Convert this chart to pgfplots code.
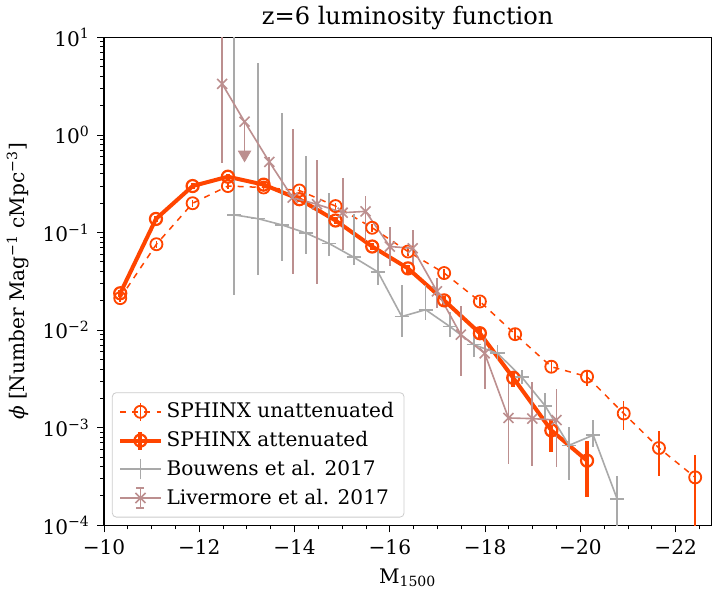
\documentclass[border=0pt]{standalone}
\usepackage{pgfplots}
\pgfplotsset{compat=1.18}
\usepackage{pgfplotstable}
\usepackage{fontspec}
\setmainfont{DejaVu Serif}

\definecolor{sphinx}{RGB}{255,69,0}
\definecolor{bouw}{RGB}{169,169,169}
\definecolor{liver}{RGB}{188,143,143}

% x = M1500, y = phi, ep/em = upper/lower error
\pgfplotstableread{
x       y        ep       em
-10.34  0.0213   0.002    0.002
-11.10  0.076    0.006    0.006
-11.86  0.20     0.015    0.015
-12.60  0.30     0.02     0.02
-13.35  0.29     0.02     0.02
-14.10  0.27     0.02     0.02
-14.86  0.187    0.015    0.015
-15.63  0.112    0.01     0.01
-16.38  0.064    0.006    0.006
-17.14  0.0385   0.004    0.004
-17.89  0.0197   0.0022   0.002
-18.63  0.0091   0.0014   0.0011
-19.39  0.00422  0.0006   0.0005
-20.14  0.00334  0.0006   0.00064
-20.91  0.0014   0.00047  0.00046
-21.65  0.00062  0.0003   0.0003
-22.41  0.00031  0.00022  0.000305
}\unatt

\pgfplotstableread{
x       y        ep       em
-10.34  0.0239   0.002    0.002
-11.09  0.138    0.01     0.01
-11.86  0.30     0.02     0.02
-12.60  0.374    0.025    0.025
-13.35  0.31     0.02     0.02
-14.10  0.22     0.015    0.015
-14.86  0.133    0.01     0.01
-15.63  0.072    0.006    0.006
-16.38  0.043    0.004    0.004
-17.14  0.0202   0.002    0.002
-17.89  0.0093   0.0012   0.0011
-18.59  0.00325  0.0005   0.00062
-19.39  0.00094  0.0003   0.00038
-20.14  0.00046  0.00028  0.000266
}\att

\pgfplotstableread{
x       y        ep       em
-12.73  0.152    30       0.129
-13.23  0.139    5.3      0.102
-13.73  0.12     1.58     0.069
-14.24  0.099    0.51     0.039
-14.73  0.077    0.18     0.019
-15.24  0.056    0.10     0.009
-15.75  0.0395   0.037    0.0105
-16.25  0.0138   0.0152   0.0052
-16.75  0.0162   0.0128   0.0035
-17.26  0.0109   0.0046   0.0023
-17.76  0.0071   0.003    0.0018
-18.26  0.0058   0.0012   0.0009
-18.77  0.0033   0.0006   0.0005
-19.26  0.00168  0.00058  0.00044
-19.76  0.00066  0.00036  0.00037
-20.27  0.00084  0.00035  0.00021
-20.77  0.000187 0.00013  0.000182
}\bouwens

\pgfplotstableread{
x       y        ep       em
-12.48  3.34     30       2.82
-12.95  1.37     0        0
-13.47  0.53     0.07     0.19
-13.96  0.228    0.92     0.19
-14.47  0.195    0.365    0.165
-15.01  0.16     0.2      0.093
-15.49  0.165    0.072    0.083
-16.00  0.072    0.043    0.027
-16.48  0.069    0.038    0.024
-16.99  0.025    0.009    0.0082
-17.49  0.0090   0.0086   0.0056
-17.99  0.0058   0.0033   0.0033
-18.49  0.00126  0.0021   0.00083
-18.99  0.00124  0.0017   0.00083
-19.50  0.0012   0.0013   0.0008
}\livermore

\begin{document}
\begin{tikzpicture}
\begin{axis}[
  scale only axis, width=302.5pt, height=243pt,
  x dir=reverse, xmin=-22.75, xmax=-10,
  ymode=log, ymin=1e-4, ymax=10,
  xtick={-10,-12,-14,-16,-18,-20,-22},
  xticklabels={−10,−12,−14,−16,−18,−20,−22},
  minor xtick={-22.5,-21.5,-20.5,-19.5,-18.5,-17.5,-16.5,-15.5,-14.5,-13.5,-12.5,-11.5,-10.5,-21,-19,-17,-15,-13,-11},
  ytick={1e-4,1e-3,1e-2,1e-1,1,10},
  yticklabels={10\textsuperscript{−4},10\textsuperscript{−3},10\textsuperscript{−2},10\textsuperscript{−1},10\textsuperscript{0},10\textsuperscript{1}},
  minor ytick={2e-4,3e-4,4e-4,5e-4,6e-4,7e-4,8e-4,9e-4,
    2e-3,3e-3,4e-3,5e-3,6e-3,7e-3,8e-3,9e-3,
    2e-2,3e-2,4e-2,5e-2,6e-2,7e-2,8e-2,9e-2,
    0.2,0.3,0.4,0.5,0.6,0.7,0.8,0.9,2,3,4,5,6,7,8,9},
  tick align=outside, tick pos=left,
  major tick length=3.5pt, minor tick length=2pt,
  tick style={black, line width=0.5pt},
  axis line style={line width=0.6pt},
  title={z=6 luminosity function}, title style={font=\large, yshift=-6pt},
  xlabel={M\textsubscript{1500}},
  ylabel={\textit{ϕ} [Number Mag\textsuperscript{−1} cMpc\textsuperscript{−3}]},
  legend style={at={(0.013,0.016)}, anchor=south west, draw=black!20,
    rounded corners=2pt, fill=white, fill opacity=0.8, text opacity=1,
    font=\normalsize, row sep=1.2pt, inner sep=3pt},
  legend cell align=left,
  error bars/error mark=none,
]
% SPHINX unattenuated
\addplot[forget plot, sphinx, dashed, line width=0.75pt, mark=o, mark size=3pt,
  mark options={solid, line width=0.9pt},
  error bars/.cd, y dir=both, y explicit,
  error bar style={solid, line width=0.75pt}]
  table[x=x, y=y, y error plus=ep, y error minus=em]{\unatt};
% SPHINX attenuated
\addplot[forget plot, sphinx, line width=2pt, mark=o, mark size=3pt,
  mark options={solid, line width=1.1pt},
  error bars/.cd, y dir=both, y explicit,
  error bar style={line width=2pt}]
  table[x=x, y=y, y error plus=ep, y error minus=em]{\att};
% Bouwens
\addplot[forget plot, bouw, line width=0.8pt, mark=+, mark size=3.5pt,
  mark options={line width=0.8pt},
  error bars/.cd, y dir=both, y explicit,
  error bar style={line width=0.9pt}]
  table[x=x, y=y, y error plus=ep, y error minus=em]{\bouwens};
% Livermore
\addplot[forget plot, liver, line width=0.8pt, mark=x, mark size=3.5pt,
  mark options={line width=0.8pt},
  error bars/.cd, y dir=both, y explicit,
  error bar style={line width=0.9pt}]
  table[x=x, y=y, y error plus=ep, y error minus=em]{\livermore};
% upper limit
\addplot[forget plot, liver, line width=0.9pt] coordinates {(-12.95,1.37) (-12.95,0.66)};
\addplot[forget plot, liver, only marks, mark=triangle*, mark size=3.5pt,
  mark options={rotate=180}] coordinates {(-12.95,0.63)};

\addlegendimage{legend image code/.code={
  \draw[sphinx, dashed, line width=0.75pt] (0pt,0pt) -- (20pt,0pt);
  \draw[sphinx, line width=0.75pt] (10pt,-4.5pt) -- (10pt,4.5pt);
  \draw[sphinx, line width=0.9pt] (10pt,0pt) circle (3pt);}}
\addlegendentry{SPHINX unattenuated}
\addlegendimage{legend image code/.code={
  \draw[sphinx, line width=2pt] (0pt,0pt) -- (20pt,0pt);
  \draw[sphinx, line width=2pt] (10pt,-4.5pt) -- (10pt,4.5pt);
  \draw[sphinx, line width=1.1pt] (10pt,0pt) circle (3pt);}}
\addlegendentry{SPHINX attenuated}
\addlegendimage{legend image code/.code={
  \draw[bouw, line width=0.8pt] (0pt,0pt) -- (20pt,0pt);
  \draw[bouw, line width=0.9pt] (10pt,-5pt) -- (10pt,5pt);}}
\addlegendentry{Bouwens et al. 2017}
\addlegendimage{legend image code/.code={
  \draw[liver, line width=0.8pt] (0pt,0pt) -- (20pt,0pt);
  \draw[liver, line width=0.9pt] (10pt,-5pt) -- (10pt,5pt);
  \draw[liver, line width=0.9pt] (8pt,-5pt) -- (12pt,-5pt);
  \draw[liver, line width=0.9pt] (8pt,5pt) -- (12pt,5pt);
  \draw[liver, line width=0.8pt] (7.5pt,-2.5pt) -- (12.5pt,2.5pt);
  \draw[liver, line width=0.8pt] (7.5pt,2.5pt) -- (12.5pt,-2.5pt);}}
\addlegendentry{Livermore et al. 2017}
\end{axis}
\end{tikzpicture}
\end{document}
